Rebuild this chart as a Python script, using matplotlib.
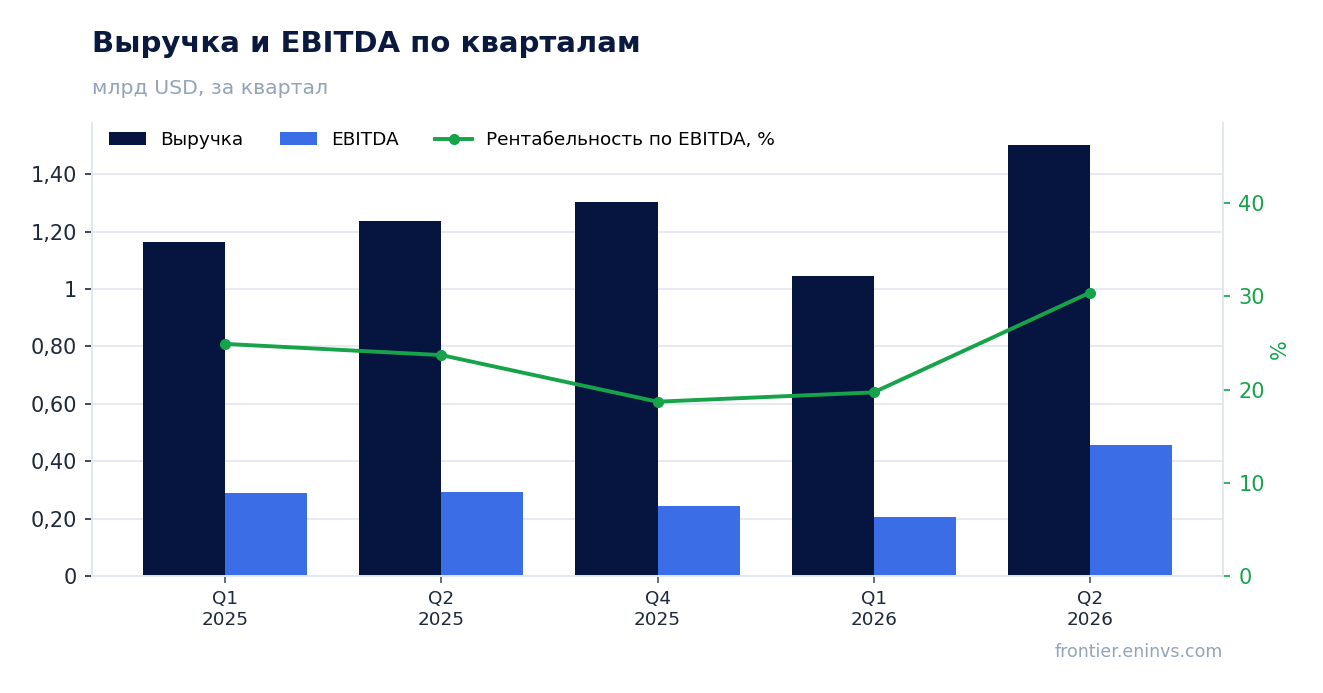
"""Quarterly revenue and EBITDA with EBITDA margin on a secondary axis."""

import matplotlib
matplotlib.use("Agg")
import matplotlib.pyplot as plt
from matplotlib.ticker import FuncFormatter

quarters = ["Q1\n2025", "Q2\n2025", "Q4\n2025", "Q1\n2026", "Q2\n2026"]
revenue = [1.163, 1.236, 1.303, 1.045, 1.501]
ebitda = [0.289, 0.293, 0.244, 0.205, 0.456]
margin = [24.9, 23.7, 18.7, 19.7, 30.4]

NAVY = "#05153f"
BLUE = "#3b6de6"
GREEN = "#16a34a"
GRID = "#e3e8ef"
GRAY = "#94a3b8"
TEXT = "#1e293b"


def ru_fmt(v, _pos):
    if abs(v - round(v)) < 1e-9:
        return f"{int(round(v))}"
    return f"{v:.2f}".replace(".", ",")


plt.rcParams["font.family"] = ["DejaVu Sans"]

fig = plt.figure(figsize=(13.23, 6.93), dpi=100)
ax = fig.add_axes([92 / 1323, 1 - 576 / 693, 1131 / 1323, 453 / 693])
ax2 = ax.twinx()

x = list(range(len(quarters)))
w = 0.38
ax.bar(x, revenue, width=-w, align="edge", color=NAVY, label="Выручка", zorder=2)
ax.bar(x, ebitda, width=w, align="edge", color=BLUE, label="EBITDA", zorder=2)
ax2.plot(x, margin, color=GREEN, lw=2.8, marker="o", ms=7,
         label="Рентабельность по EBITDA, %", zorder=3)

ax.set_xlim(-0.616, len(quarters) - 1 + 0.616)
ax.set_ylim(0, 1.578)
ax2.set_ylim(0, 48.6)
ax.set_yticks([0, 0.2, 0.4, 0.6, 0.8, 1.0, 1.2, 1.4])
ax.yaxis.set_major_formatter(FuncFormatter(ru_fmt))
ax2.set_yticks([0, 10, 20, 30, 40])

ax.set_xticks(x)
ax.set_xticklabels(quarters, fontsize=13.2, color=TEXT, linespacing=1.2)
ax.grid(axis="y", color=GRID, lw=1.2, zorder=0)
ax.set_axisbelow(True)

for a in (ax, ax2):
    a.spines["top"].set_visible(False)
    for side in ("left", "right", "bottom"):
        a.spines[side].set_color(GRID)
        a.spines[side].set_linewidth(1.2)

ax.tick_params(axis="y", labelsize=15, colors=TEXT, length=5, width=1.2, pad=6)
ax.tick_params(axis="x", colors="#475569", labelcolor=TEXT, length=5, width=1.2, pad=5)
ax2.tick_params(axis="y", labelsize=15, colors=GREEN, length=5, width=1.2, pad=6)
ax2.set_ylabel("%", color=GREEN, fontsize=15, labelpad=4)

h1, l1 = ax.get_legend_handles_labels()
h2, l2 = ax2.get_legend_handles_labels()
ax2.legend(h1 + h2, l1 + l2, loc="upper left", ncol=3, frameon=False,
           fontsize=13.3, handlelength=2.0, handleheight=0.7, handletextpad=0.75,
           columnspacing=2.0, bbox_to_anchor=(5 / 1131, 1 + 4 / 453),
           borderaxespad=0.2, borderpad=0.45)

fig.text(92 / 1323, 1 - 44 / 693, "Выручка и EBITDA по кварталам",
         fontsize=21, fontweight="bold", color="#0a1a3f", va="center", ha="left")
fig.text(92 / 1323, 1 - 88 / 693, "млрд USD, за квартал",
         fontsize=14.7, color=GRAY, va="center", ha="left")
fig.text(1223 / 1323, 1 - 652 / 693, "frontier.eninvs.com",
         fontsize=12.5, color=GRAY, va="center", ha="right")

fig.savefig("out.png", dpi=100)
